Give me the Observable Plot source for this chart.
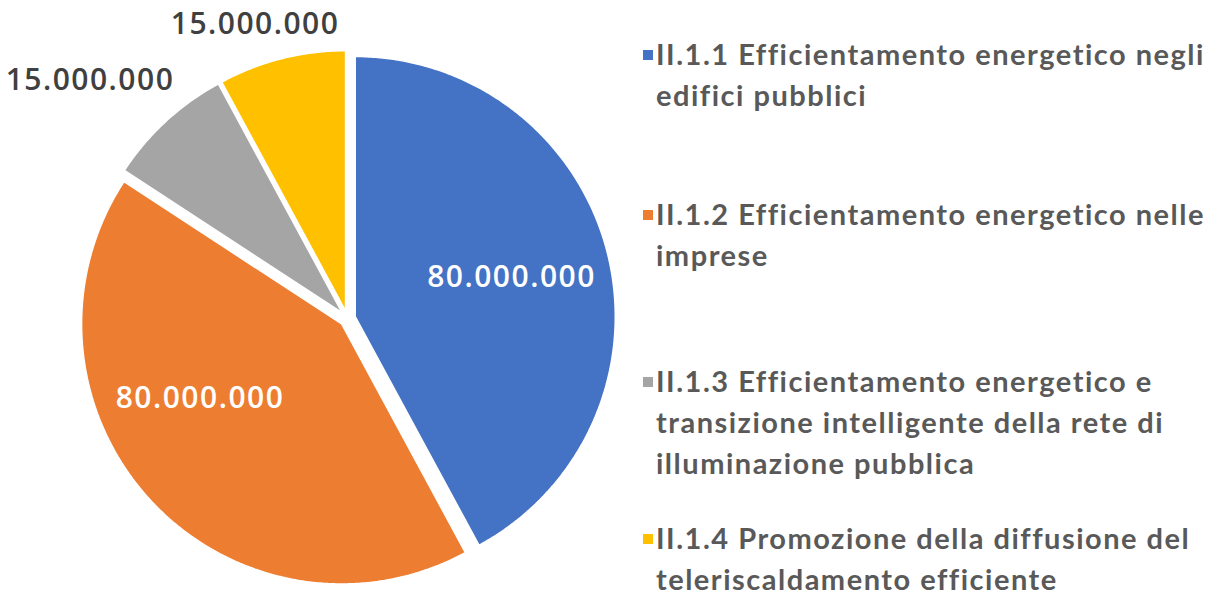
<!DOCTYPE html>
<html>
<head>
<meta charset="utf-8">
<script src="https://cdn.jsdelivr.net/npm/d3@7"></script>
<script src="https://cdn.jsdelivr.net/npm/@observablehq/plot@0.6"></script>
<style>
  html, body { margin: 0; padding: 0; background: #fff; }
  #wrap { position: relative; width: 1216px; height: 597px; overflow: hidden; }
  #chart { position: absolute; left: 0; top: 0; }
  #legend { position: absolute; left: 643px; top: 0; font-family: Lato, "Open Sans", sans-serif; font-weight: 700; font-size: 29px; letter-spacing: 1.5px; color: #595959; }
  .item { position: absolute; left: 0; white-space: nowrap; }
  .sw { position: absolute; left: 0; width: 10px; height: 10px; }
  .ln { position: absolute; left: 13px; line-height: 28px; white-space: nowrap; }
</style>
</head>
<body>
<div id="wrap"><div id="chart"></div><div id="legend"></div></div>
<script>
const categories = [
  "II.1.1 Efficientamento energetico negli edifici pubblici",
  "II.1.2 Efficientamento energetico nelle imprese",
  "II.1.3 Efficientamento energetico e transizione intelligente della rete di illuminazione pubblica",
  "II.1.4 Promozione della diffusione del teleriscaldamento efficiente"
];
const legendLines = [
  ["II.1.1 Efficientamento energetico negli", "edifici pubblici"],
  ["II.1.2 Efficientamento energetico nelle", "imprese"],
  ["II.1.3 Efficientamento energetico e", "transizione intelligente della rete di", "illuminazione pubblica"],
  ["II.1.4 Promozione della diffusione del", "teleriscaldamento efficiente"]
];
const values = [80000000, 80000000, 15000000, 15000000];
const colors = ["#4472C4", "#ED7D31", "#A5A5A5", "#FFC000"];

const locale = d3.formatLocale({decimal: ",", thousands: ".", grouping: [3], currency: ["", ""]});
const fmt = locale.format(",");

const data = categories.map((name, i) => ({name, value: values[i]}));
const arcs = d3.pie().sort(null).value(d => d.value)(data);

// geometry (pixels)
const cx = 347, cy = 318, R = 260, explode = 8 / R;

const slices = arcs.map((a, i) => {
  const mid = (a.startAngle + a.endAngle) / 2;
  return {name: a.data.name, value: a.data.value, i, start: a.startAngle, end: a.endAngle, mid,
          ox: explode * Math.sin(mid), oy: explode * Math.cos(mid)};
});

const points = [];
for (const s of slices) {
  points.push({name: s.name, x: s.ox, y: s.oy});
  const n = Math.max(2, Math.ceil((s.end - s.start) / (Math.PI / 360)));
  for (let k = 0; k <= n; k++) {
    const t = s.start + (s.end - s.start) * k / n;
    points.push({name: s.name, x: s.ox + Math.sin(t), y: s.oy + Math.cos(t)});
  }
  points.push({name: s.name, x: s.ox, y: s.oy});
}

const labelPos = (s, k) => ({x: s.ox + k * Math.sin(s.mid), y: s.oy + k * Math.cos(s.mid), text: fmt(s.value)});

const labelFont = {fontFamily: "'Open Sans', sans-serif", fontWeight: 600, fontSize: 30, textAnchor: "middle", lineAnchor: "middle"};

const chart = Plot.plot({
  width: 630,
  height: 597,
  margin: 0,
  x: {domain: [-1, 1], range: [cx - R, cx + R], axis: null},
  y: {domain: [-1, 1], range: [cy + R, cy - R], axis: null},
  color: {domain: categories, range: colors},
  style: {background: "transparent"},
  marks: [
    Plot.line(points, {x: "x", y: "y", z: "name", fill: "name", stroke: "white", strokeWidth: 1.5, strokeLinejoin: "miter"}),
    Plot.text([labelPos(slices[0], 0.62)], {x: "x", y: "y", text: "text", fill: "white", ...labelFont}),
    Plot.text([labelPos(slices[1], 0.62)], {x: "x", y: "y", text: "text", fill: "white", dx: -23, dy: -35, ...labelFont}),
    Plot.text([labelPos(slices[2], 1.25)], {x: "x", y: "y", text: "text", fill: "#404040", dx: -32, dy: 7, ...labelFont}),
    Plot.text([labelPos(slices[3], 1.12)], {x: "x", y: "y", text: "text", fill: "#404040", dx: -19, dy: -4, ...labelFont})
  ]
});
chart.querySelectorAll("text").forEach(t => t.setAttribute("letter-spacing", "1.5"));
document.getElementById("chart").appendChild(chart);

// legend
const legendTops = [34, 194, 361, 518];
const legend = document.getElementById("legend");
legendLines.forEach((lines, i) => {
  const item = document.createElement("div");
  item.className = "item";
  item.style.top = legendTops[i] + "px";
  const sw = document.createElement("div");
  sw.className = "sw";
  sw.style.background = colors[i];
  sw.style.top = "16px";
  item.appendChild(sw);
  lines.forEach((l, j) => {
    const ln = document.createElement("div");
    ln.className = "ln";
    ln.style.top = (j * 41 + 6) + "px";
    ln.textContent = l;
    item.appendChild(ln);
  });
  legend.appendChild(item);
});
</script>
</body>
</html>
